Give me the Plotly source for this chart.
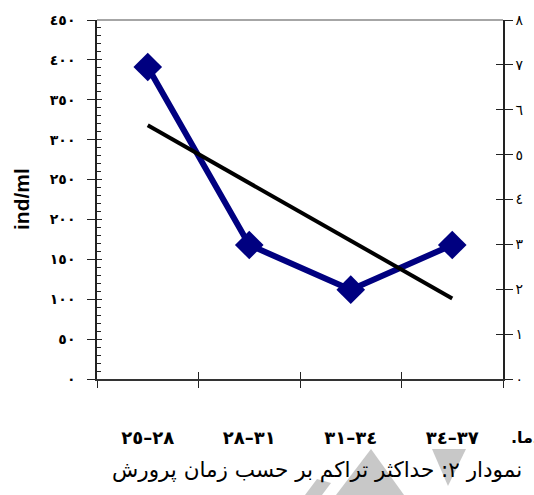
import plotly.graph_objects as go

# ---- data ----
LRM = "\u200e"
categories = ["٢٥" + LRM + "–" + LRM + "٢٨", "٢٨" + LRM + "–" + LRM + "٣١",
              "٣١" + LRM + "–" + LRM + "٣٤", "٣٤" + LRM + "–" + LRM + "٣٧"]
density = [391, 168, 112, 168]
trend_categories = [categories[0], categories[3]]
trend_values = [318, 101]
left_tick_vals = [0, 50, 100, 150, 200, 250, 300, 350, 400, 450]
left_tick_text = ["٠", "٥٠", "١٠٠", "١٥٠", "٢٠٠", "٢٥٠", "٣٠٠", "٣٥٠", "٤٠٠", "٤٥٠"]
right_tick_vals = [0, 1, 2, 3, 4, 5, 6, 7, 8]
right_tick_text = ["٠", "١", "٢", "٣", "٤", "٥", "٦", "٧", "٨"]
boundary_vals = [-0.5, 0.5, 1.5, 2.5, 3.5]

W, H = 534, 495
ML, MR, MT, MB = 97, 31, 20, 116
PW, PH = W - ML - MR, H - MT - MB


def px(x):
    return (x - ML) / PW


def py(y):
    return (H - MB - y) / PH


fig = go.Figure()
fig.add_trace(go.Scatter(
    x=categories, y=density, mode="lines+markers",
    line=dict(color="#000080", width=6),
    marker=dict(symbol="diamond", size=22, color="#000080"),
    showlegend=False, hoverinfo="skip"))
fig.add_trace(go.Scatter(
    x=trend_categories, y=trend_values, mode="lines",
    line=dict(color="#000000", width=4),
    showlegend=False, hoverinfo="skip"))
# empty carriers so that the extra (tick-only) axes are drawn
for xa, ya in [("x2", "y3"), ("x", "y2"), ("x", "y4")]:
    fig.add_trace(go.Scatter(x=[None], y=[None], xaxis=xa, yaxis=ya, mode="markers",
                             marker=dict(opacity=0), showlegend=False, hoverinfo="skip"))

axis_color = "#222222"
fig.update_layout(
    width=W, height=H,
    margin=dict(l=ML, r=MR, t=MT, b=MB, autoexpand=False),
    paper_bgcolor="white", plot_bgcolor="white",
    font=dict(family="DejaVu Sans", color="black"),
    xaxis=dict(type="category", categoryarray=categories, range=[-0.5, 3.5],
               tickson="boundaries", ticks="outside", ticklen=7, tickwidth=1,
               tickcolor=axis_color, showline=True, linecolor="#333333",
               linewidth=2, showgrid=False, zeroline=False,
               ticklabelstandoff=41,
               tickfont=dict(size=18, family="DejaVu Sans", weight="bold")),
    xaxis2=dict(type="linear", overlaying="x", anchor="y", range=[-0.5, 3.5],
                tickvals=boundary_vals, ticks="inside", ticklen=7, tickwidth=1,
                tickcolor=axis_color, showticklabels=False, showline=False,
                showgrid=False, zeroline=False),
    yaxis=dict(range=[0, 450], tickvals=left_tick_vals, ticktext=left_tick_text,
               ticks="outside", ticklen=8, tickwidth=1, tickcolor=axis_color,
               showline=True, linecolor=axis_color, linewidth=1.5,
               showgrid=False, zeroline=False, ticklabelstandoff=9,
               tickfont=dict(size=14, family="DejaVu Sans", weight="bold")),
    yaxis3=dict(range=[0, 450], overlaying="y", side="left", anchor="x2",
                tickvals=left_tick_vals, ticks="inside", ticklen=5, tickwidth=1,
                tickcolor=axis_color, showticklabels=False, showline=False,
                showgrid=False, zeroline=False,
                minor=dict(ticks="inside", ticklen=4, dtick=10, tickcolor=axis_color,
                           showgrid=False)),
    yaxis2=dict(range=[0, 8], overlaying="y", side="right", anchor="x",
                tickvals=right_tick_vals, ticktext=right_tick_text,
                ticks="outside", ticklen=8, tickwidth=1, tickcolor=axis_color,
                showline=True, linecolor=axis_color, linewidth=1.5,
                showgrid=False, zeroline=False,
                tickfont=dict(size=14, family="DejaVu Sans")),
    yaxis4=dict(range=[0, 8], overlaying="y", side="right", anchor="x",
                tickvals=right_tick_vals, ticks="inside", ticklen=7, tickwidth=1,
                tickcolor=axis_color, showticklabels=False, showline=False,
                showgrid=False, zeroline=False),
)

# top border of plot area
fig.add_shape(type="line", xref="paper", yref="paper", x0=0, x1=1, y0=1, y1=1,
              line=dict(color="#888888", width=1.5))

# faint watermark fragments
wm = "#c8c8c8"
polys = [
    [(305, 495), (322, 495), (331, 483), (317, 479)],
    [(371, 449), (404, 495), (336, 495)],
    [(432, 449), (466, 449), (448, 486)],
]
for poly in polys:
    path = "M " + " L ".join(f"{px(x):.4f},{py(y):.4f}" for x, y in poly) + " Z"
    fig.add_shape(type="path", xref="paper", yref="paper", path=path,
                  fillcolor=wm, line=dict(width=0), layer="below")

# y-axis title
fig.add_annotation(xref="paper", yref="paper", x=px(21), y=py(199),
                   xanchor="center", yanchor="middle",
                   text="<b>ind/ml</b>", textangle=-90, showarrow=False,
                   font=dict(family="Liberation Sans", size=21, color="black"))
# x-axis label (cut at right edge)
fig.add_annotation(xref="paper", yref="paper", x=px(509), y=py(437),
                   xanchor="left", yanchor="middle",
                   text="<b>.دما</b>", showarrow=False,
                   font=dict(family="DejaVu Sans", size=16, color="black"))
# caption
fig.add_annotation(xref="paper", yref="paper", x=px(317), y=py(470),
                   xanchor="center", yanchor="middle",
                   text="نمودار ٢: حداکثر تراکم بر حسب زمان پرورش", showarrow=False,
                   font=dict(family="DejaVu Sans", size=21.5, color="black"))

fig.write_html("out.html", config={"displayModeBar": False},
               post_script="document.body.style.margin='0';")
